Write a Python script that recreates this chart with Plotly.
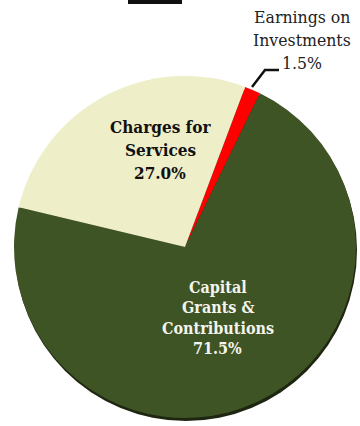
import plotly.graph_objects as go

# Revenue sources, clockwise from the red slice
categories = ["Earnings on Investments", "Capital Grants & Contributions", "Charges for Services"]
shares = [1.5, 71.5, 27.0]
colors = ["#ff0000", "#3f5424", "#eeeec9"]

# Label text, one entry per line (the last line is the share)
label_lines = {
    "Earnings on Investments": ["Earnings on", "Investments"],
    "Capital Grants & Contributions": ["Capital", "Grants &", "Contributions"],
    "Charges for Services": ["Charges for", "Services"],
}

W, H = 360, 426
SERIF = "DejaVu Serif Condensed, DejaVu Serif, serif"


def px(x, y):
    return x / W, 1 - y / H


fig = go.Figure()

# pie centre (185, 247), radius 171 px
cx, cy, r = 185, 247, 171
x0, y1 = px(cx - r, cy - r)
x1, y0 = px(cx + r, cy + r)

fig.add_trace(go.Pie(
    labels=categories,
    values=shares,
    sort=False,
    direction="clockwise",
    rotation=20.6,
    marker=dict(colors=colors, line=dict(width=0)),
    textinfo="none",
    hoverinfo="label+percent",
    showlegend=False,
    domain=dict(x=[x0, x1], y=[y0, y1]),
))

annotations = []


def add_block(lines, cxp, top_y, step, size, color, bold):
    for i, line in enumerate(lines):
        ax, ay = px(cxp, top_y + i * step)
        txt = f"<b>{line}</b>" if bold else line
        annotations.append(dict(
            x=ax, y=ay, xref="paper", yref="paper", text=txt, showarrow=False,
            xanchor="center", yanchor="middle",
            font=dict(family=SERIF, size=size, color=color),
        ))


share = dict(zip(categories, shares))
fmt = lambda v: f"{v:.1f}%"

add_block(label_lines["Charges for Services"] + [fmt(share["Charges for Services"])],
          160, 127, 23, 17, "#111111", True)
add_block(label_lines["Capital Grants & Contributions"] + [fmt(share["Capital Grants & Contributions"])],
          218, 287, 20.5, 16, "#f4f4ee", True)
add_block(label_lines["Earnings on Investments"] + [fmt(share["Earnings on Investments"])],
          302, 17, 23, 17.5, "#222222", False)

# leader line for the small slice
p = [px(252, 87), px(265, 70), px(279, 70)]
path = "M {} {} L {} {} L {} {}".format(p[0][0], p[0][1], p[1][0], p[1][1], p[2][0], p[2][1])

bx0, by1 = px(128, 0)
bx1, by0 = px(182, 4)

# soft shadow under the pie
sx0, sy1 = px(cx - r + 1, cy - r + 3)
sx1, sy0 = px(cx + r + 1, cy + r + 3)

fig.update_layout(
    width=W, height=H,
    margin=dict(l=0, r=0, t=0, b=0),
    paper_bgcolor="white",
    plot_bgcolor="white",
    annotations=annotations,
    shapes=[
        dict(type="circle", xref="paper", yref="paper", x0=sx0, x1=sx1, y0=sy0, y1=sy1,
             fillcolor="#1e2612", line=dict(width=0), layer="below"),
        dict(type="path", xref="paper", yref="paper", path=path,
             line=dict(color="#111111", width=2.5)),
        dict(type="rect", xref="paper", yref="paper", x0=bx0, x1=bx1, y0=by0, y1=by1,
             fillcolor="#111111", line=dict(width=0)),
    ],
)

fig.write_html("out.html")
